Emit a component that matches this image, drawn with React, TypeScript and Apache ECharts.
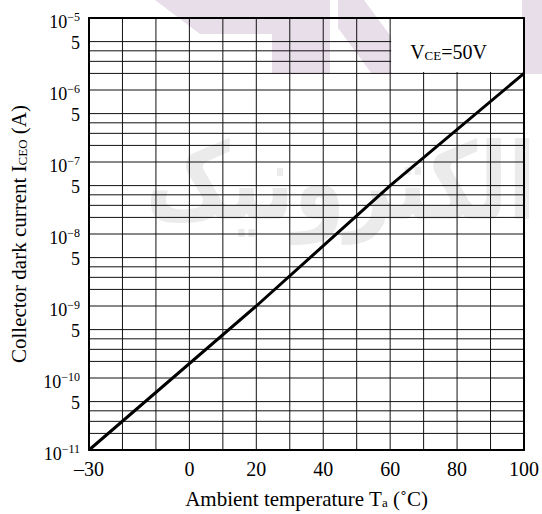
import React, { useEffect, useRef } from "react";
import * as echarts from "echarts";

// ---- data ----
const temperatures = [-30, 20, 60, 100];
const darkCurrent = [1e-11, 1e-9, 4.7e-8, 1.7e-6];
const xTickValues = [-30, 0, 20, 40, 60, 80, 100];
const xGridValues = [-20, -10, 0, 10, 20, 30, 40, 50, 60, 70, 80, 90];
const decadeExponents = [-11, -10, -9, -8, -7, -6, -5];
const minorMultipliers = [4.7, 3.5, 2.5, 1.7];
const minorLabel = "5";
const legendText = "V{sub|CE}=50V";
const boxCorners = [
  [60, 1e-5],
  [100, 1.78e-6],
];

const FONT = "'Liberation Serif', 'Times New Roman', serif";
const X_MIN = -30;
const X_MAX = 100;
const Y_MIN = 1e-11;
const Y_MAX = 1e-5;
const WM = "#e8dee9";

const watermarkShapes = [
  [[155, 0], [330, 0], [330, 74], [272, 74], [272, 34], [200, 34]],
  [[338, 0], [364, 0], [392, 38], [392, 74], [372, 74], [338, 28]],
  [[522, 0], [542, 0], [542, 74], [522, 74]],
];

export default function App() {
  const ref = useRef<HTMLDivElement>(null);
  useEffect(() => {
    document.body.style.margin = "0";
    const chart = echarts.init(ref.current!, undefined, { renderer: "svg" });

    // horizontal grid rows: [x, y, labelFlag]
    const hRows: number[][] = [];
    decadeExponents.forEach((e, di) => {
      if (di > 0 && di < decadeExponents.length - 1) hRows.push([X_MIN, Math.pow(10, e), 0]);
      if (di === decadeExponents.length - 1) return;
      minorMultipliers.forEach((m, mi) => hRows.push([X_MIN, m * Math.pow(10, e), mi === 0 ? 1 : 0]));
    });
    const vRows = xGridValues.map((x) => [x, Y_MIN]);

    const axisLineStyle = { show: true, onZero: false, lineStyle: { color: "#000", width: 2 } };

    const option: any = {
      animation: false,
      backgroundColor: "#fff",
      grid: { left: 89, right: 18, top: 18, bottom: 62, show: false },
      graphic: {
        elements: [
          {
            type: "text",
            z: 1,
            silent: true,
            x: 536,
            y: 182,
            scaleY: 1.3,
            style: {
              text: "الکترونیک",
              fontSize: 82,
              fontWeight: "bold",
              fontFamily: "'DejaVu Sans', sans-serif",
              fill: "#ebebeb",
              align: "right",
              verticalAlign: "middle",
            },
          },
        ],
      },
      xAxis: [
        {
          type: "value",
          min: X_MIN,
          max: X_MAX,
          interval: 10,
          z: 10,
          axisLine: axisLineStyle,
          axisTick: { show: false },
          splitLine: { show: false },
          axisLabel: {
            color: "#000",
            fontSize: 20,
            fontFamily: FONT,
            margin: 9,
            formatter: (v: number) =>
              xTickValues.indexOf(v) >= 0 ? (v < 0 ? "\u2013" + Math.abs(v) : String(v)) : "",
          },
          name: "Ambient temperature T{sub|a} (\u02DAC)",
          nameLocation: "middle",
          nameGap: 38,
          nameTextStyle: {
            color: "#000",
            fontSize: 21,
            fontFamily: FONT,
            rich: { sub: { fontSize: 13, fontFamily: FONT, color: "#000", verticalAlign: "bottom", padding: [7, 0, 0, 0] } },
          },
        },
        {
          type: "value",
          position: "top",
          min: X_MIN,
          max: X_MAX,
          interval: 10,
          z: 10,
          axisLine: axisLineStyle,
          axisTick: { show: false },
          axisLabel: { show: false },
          splitLine: { show: false },
        },
      ],
      yAxis: [
        {
          type: "log",
          logBase: 10,
          min: Y_MIN,
          max: Y_MAX,
          interval: 1,
          z: 10,
          axisLine: axisLineStyle,
          axisTick: { show: false },
          splitLine: { show: false },
          minorSplitLine: { show: false },
          axisLabel: {
            color: "#000",
            fontSize: 18,
            fontFamily: FONT,
            margin: 9,
            padding: [7, 0, 0, 0],
            formatter: (v: number) => {
              const e = Math.round(Math.log10(v));
              return "10{sup|\u2212" + Math.abs(e) + "}";
            },
            rich: {
              sup: { fontSize: 12, fontFamily: FONT, color: "#000", verticalAlign: "top", padding: [0, 0, 10, 0] },
            },
          },
          name: "Collector dark current I{sub|CEO} (A)",
          nameLocation: "middle",
          nameGap: 60,
          nameTextStyle: {
            color: "#000",
            fontSize: 21,
            fontFamily: FONT,
            rich: { sub: { fontSize: 13, fontFamily: FONT, color: "#000", verticalAlign: "bottom", padding: [7, 0, 0, 0] } },
          },
        },
        {
          type: "log",
          logBase: 10,
          position: "right",
          min: Y_MIN,
          max: Y_MAX,
          z: 10,
          axisLine: axisLineStyle,
          axisTick: { show: false },
          axisLabel: { show: false },
          splitLine: { show: false },
        },
      ],
      series: [
        {
          // faint watermark behind the chart
          type: "custom",
          z: 1,
          silent: true,
          clip: false,
          encode: { x: 0, y: 1 },
          data: [[X_MIN, Y_MIN]],
          renderItem: () => ({
            type: "group",
            children: watermarkShapes.map((pts) => ({
              type: "polygon",
              shape: { points: pts },
              style: { fill: WM, stroke: null },
            })),
          }),
        },
        {
          // vertical grid lines
          type: "custom",
          z: 2,
          silent: true,
          clip: false,
          encode: { x: 0, y: 1 },
          data: vRows,
          renderItem: (params: any, api: any) => {
            const x = api.value(0);
            const a = api.coord([x, Y_MIN]);
            const b = api.coord([x, Y_MAX]);
            return {
              type: "line",
              shape: { x1: a[0], y1: a[1], x2: b[0], y2: b[1] },
              style: { stroke: "#111", lineWidth: 1, fill: null },
            };
          },
        },
        {
          // horizontal grid lines with "5" labels
          type: "custom",
          z: 2,
          silent: true,
          clip: false,
          encode: { x: 0, y: 1 },
          data: hRows,
          renderItem: (params: any, api: any) => {
            const y = api.value(1);
            const flag = api.value(2);
            const a = api.coord([X_MIN, y]);
            const b = api.coord([X_MAX, y]);
            const children: any[] = [
              {
                type: "line",
                shape: { x1: a[0], y1: a[1], x2: b[0], y2: b[1] },
                style: { stroke: "#111", lineWidth: 1, fill: null },
              },
            ];
            if (flag === 1) {
              children.push({
                type: "text",
                x: a[0] - 9,
                y: a[1] + 1,
                style: {
                  text: minorLabel,
                  fill: "#000",
                  fontSize: 18,
                  fontFamily: FONT,
                  align: "right",
                  verticalAlign: "middle",
                },
              });
            }
            return { type: "group", children };
          },
        },
        {
          // legend box
          type: "custom",
          z: 3,
          silent: true,
          clip: false,
          encode: { x: 0, y: 1 },
          data: [[boxCorners[0][0], boxCorners[0][1], boxCorners[1][0], boxCorners[1][1]]],
          renderItem: (params: any, api: any) => {
            const a = api.coord([api.value(0), api.value(1)]);
            const b = api.coord([api.value(2), api.value(3)]);
            return {
              type: "group",
              children: [
                {
                  type: "rect",
                  shape: { x: a[0] + 1, y: a[1] + 1, width: b[0] - a[0] - 2, height: b[1] - a[1] - 1 },
                  style: { fill: "#fff" },
                },
                {
                  type: "text",
                  x: a[0] + 20,
                  y: a[1] + 34,
                  style: {
                    text: legendText,
                    fill: "#000",
                    fontSize: 20,
                    fontFamily: FONT,
                    align: "left",
                    verticalAlign: "middle",
                    rich: {
                      sub: { fontSize: 13, fontFamily: FONT, fill: "#000", verticalAlign: "bottom", padding: [7, 0, 0, 0] },
                    },
                  },
                },
              ],
            };
          },
        },
        {
          type: "line",
          z: 5,
          silent: true,
          symbol: "none",
          lineStyle: { color: "#000", width: 3 },
          data: temperatures.map((t, i) => [t, darkCurrent[i]]),
        },
      ],
    };
    chart.setOption(option);
    return () => chart.dispose();
  }, []);
  return <div ref={ref} style={{ width: 542, height: 514 }} />;
}
